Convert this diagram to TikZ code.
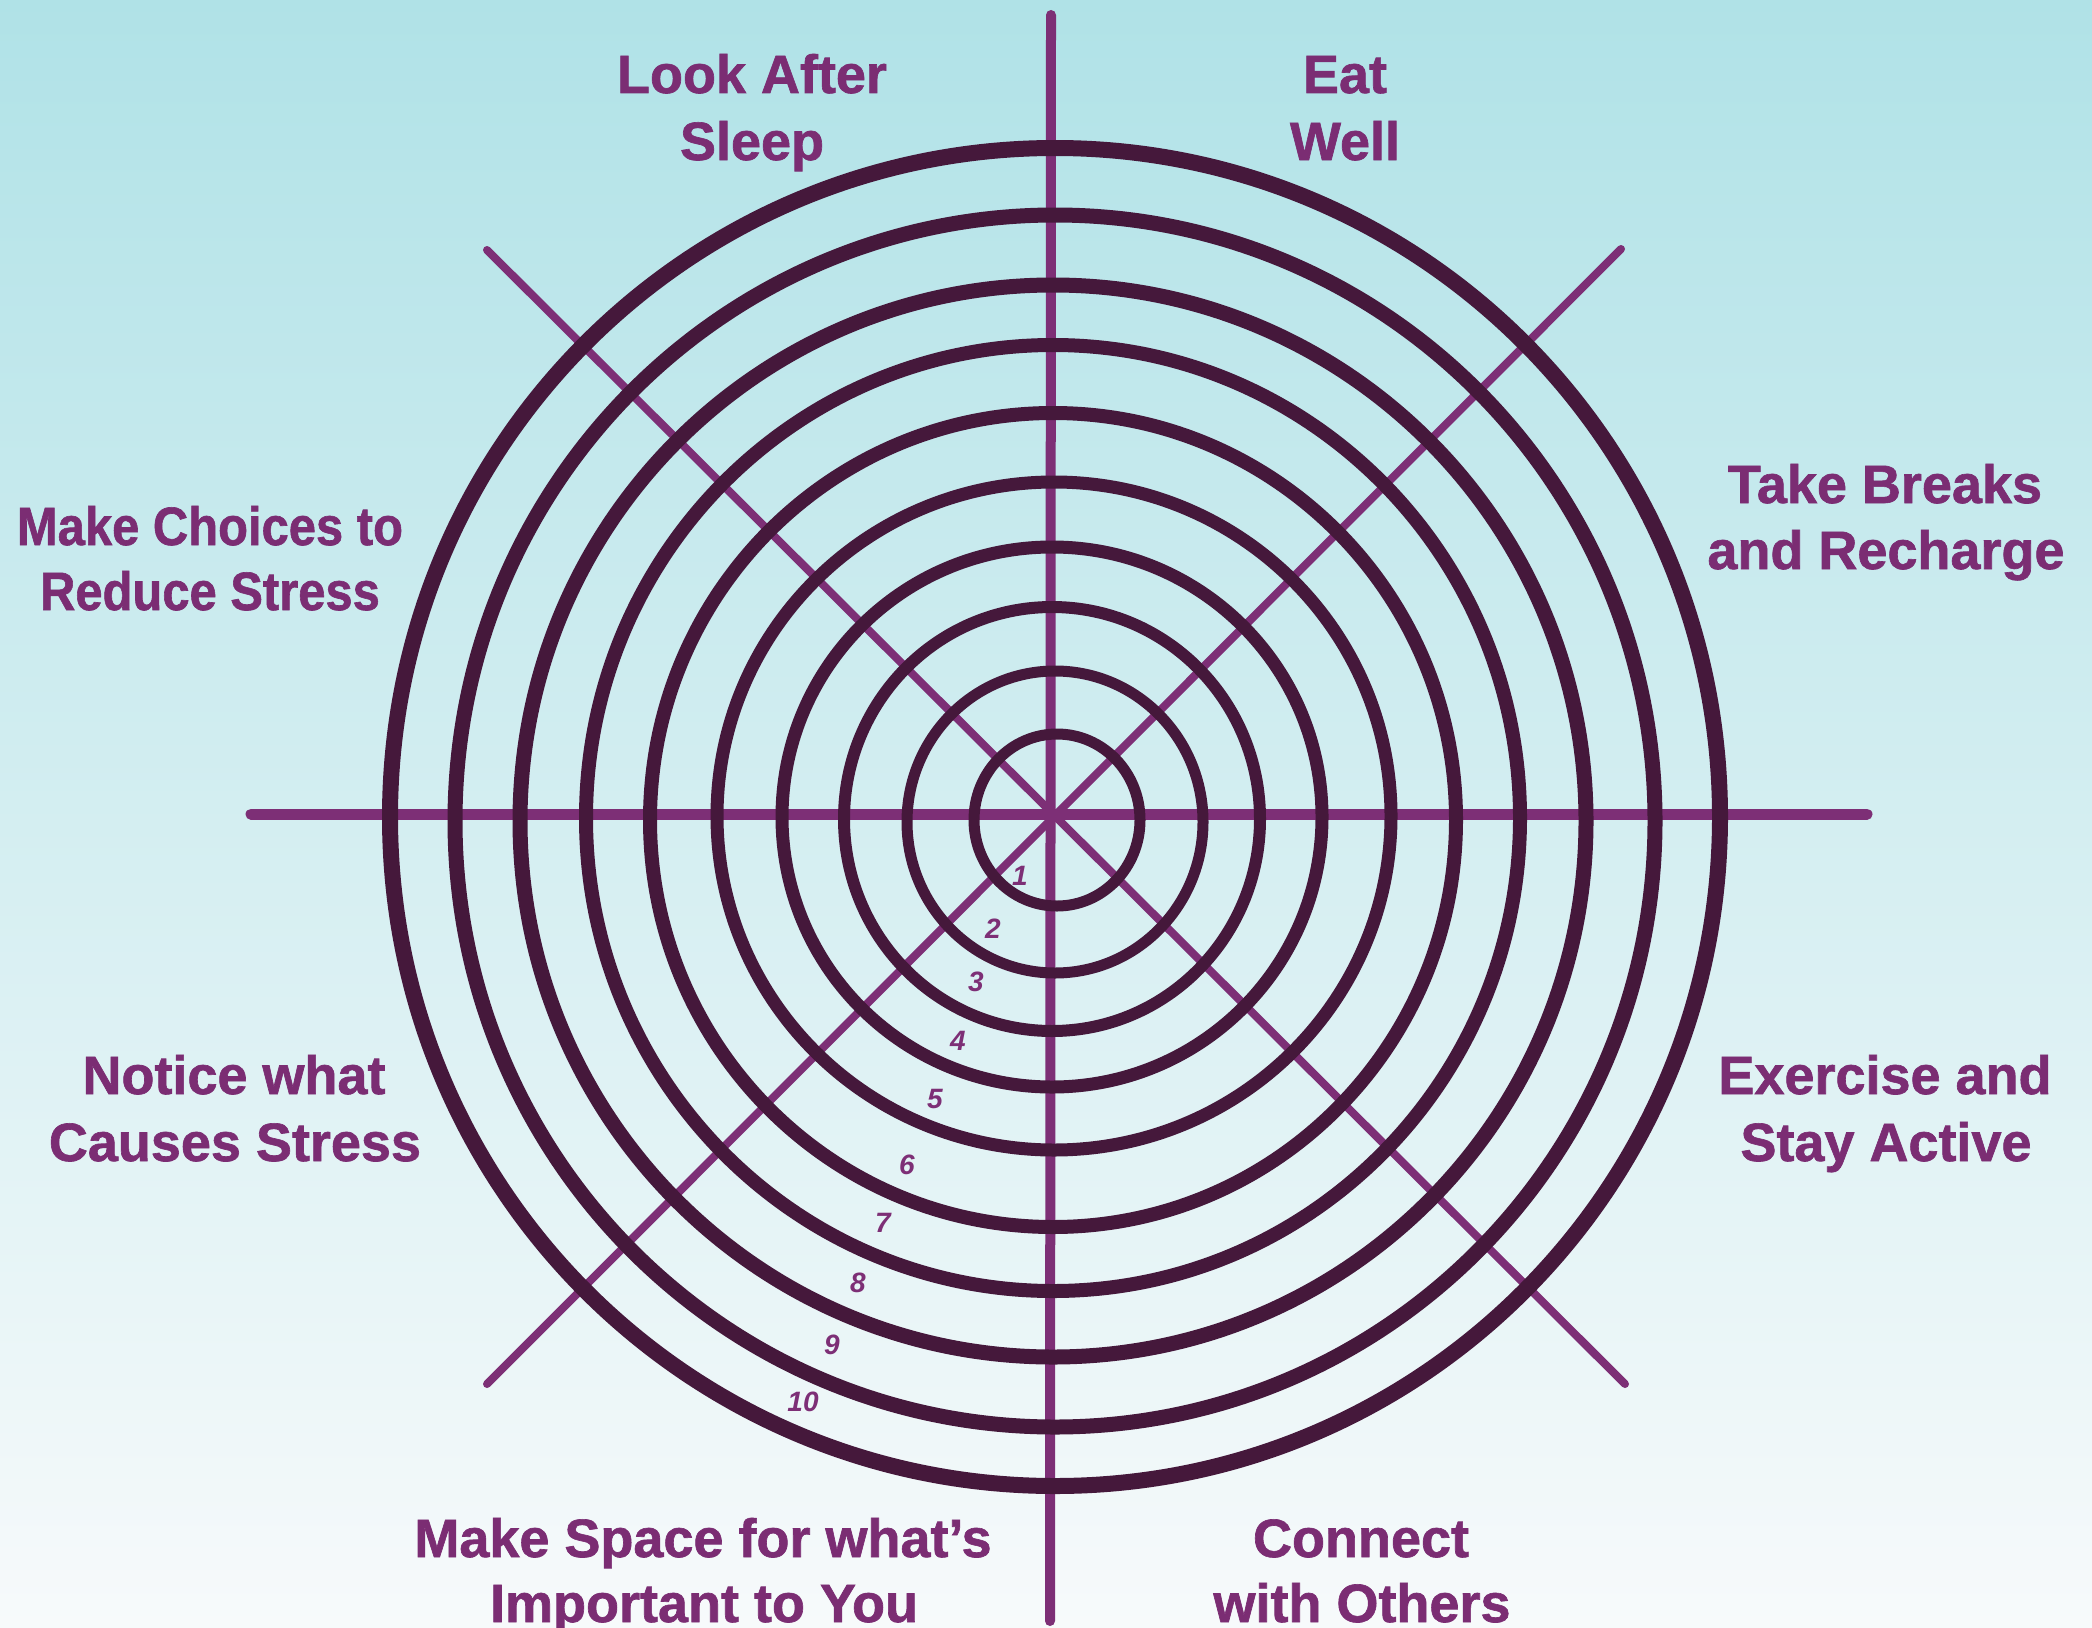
\documentclass[tikz,border=0pt]{standalone}
\usepackage{fontspec}
\setmainfont{Liberation Sans}
\newfontfamily\labfont{Liberation Sans Bold}[FakeBold=1.2]
\newfontfamily\numfont{Liberation Sans Bold Italic}
\definecolor{bgtop}{RGB}{176,226,231}
\definecolor{bgbot}{RGB}{247,250,251}
\definecolor{ring}{RGB}{69,24,59}
\definecolor{spoke}{RGB}{125,47,118}
\definecolor{labelc}{RGB}{123,45,115}
\begin{document}
\begin{tikzpicture}[x=0.5pt,y=-0.5pt,
  lab/.style={text=labelc, font=\labfont\fontsize{27}{32}\selectfont, anchor=base, inner sep=0pt},
  num/.style={text=spoke, font=\numfont\fontsize{14}{14}\selectfont, inner sep=0pt},
  spokeline/.style={draw=spoke, line cap=round},
  ringline/.style={draw=ring}]
\useasboundingbox (0,0) rectangle (2092,1627);
\shade[top color=bgtop, bottom color=bgbot] (0,0) rectangle (2092,1627);
% spokes
\coordinate (c) at (1051,814);
\coordinate (top) at (1051,15);
\coordinate (bot) at (1050,1621);
\coordinate (lft) at (251,814);
\coordinate (rgt) at (1867,814);
\coordinate (ul) at (487,250);
\coordinate (ur) at (1621,249);
\coordinate (ll) at (487,1384);
\coordinate (lr) at (1625,1384);
\draw[spokeline, line width=5pt] (top) -- (bot);
\draw[spokeline, line width=5.5pt] (lft) -- (rgt);
\draw[spokeline, line width=4pt] (ul) -- (lr);
\draw[spokeline, line width=4pt] (ur) -- (ll);
% rings
\draw[ringline, line width=5.5pt] (1057,820) ellipse [x radius=83, y radius=86];
\draw[ringline, line width=5.5pt] (1055,822) ellipse [x radius=148, y radius=151];
\draw[ringline, line width=6pt] (1052,819) ellipse [x radius=208, y radius=212];
\draw[ringline, line width=6.5pt] (1052,817) ellipse [x radius=270, y radius=270];
\draw[ringline, line width=6.5pt] (1054,816) ellipse [x radius=337, y radius=334];
\draw[ringline, line width=7pt] (1053,820) ellipse [x radius=403, y radius=407];
\draw[ringline, line width=7pt] (1053,818) ellipse [x radius=467, y radius=473];
\draw[ringline, line width=7.5pt] (1053,821) ellipse [x radius=533, y radius=536];
\draw[ringline, line width=7.5pt] (1055,821) ellipse [x radius=600, y radius=606];
\draw[ringline, line width=8pt] (1055,817) ellipse [x radius=665, y radius=669];
% numbers
\node[num] (n1) at (1020,876) {1};
\node[num] (n2) at (993,929) {2};
\node[num] (n3) at (976,982) {3};
\node[num] (n4) at (958,1041) {4};
\node[num] (n5) at (935,1099) {5};
\node[num] (n6) at (907,1165) {6};
\node[num] (n7) at (883,1223) {7};
\node[num] (n8) at (858,1283) {8};
\node[num] (n9) at (832,1345) {9};
\node[num] (n10) at (803,1402) {10};
% labels
\node[lab] (sleepA) at (752,93) {Look After};
\node[lab] (sleepB) at (752,160) {Sleep};
\node[lab] (eatA) at (1345,93) {Eat};
\node[lab] (eatB) at (1345,160) {Well};
\node[lab] (choA) at (210,545) {\scalebox{0.906}[1]{Make Choices to}};
\node[lab] (choB) at (210,610) {\scalebox{0.906}[1]{Reduce Stress}};
\node[lab] (takA) at (1885,503) {Take Breaks};
\node[lab] (takB) at (1886,569) {and Recharge};
\node[lab] (notA) at (234,1094) {Notice what};
\node[lab] (notB) at (235,1161) {Causes Stress};
\node[lab] (exeA) at (1885,1094) {Exercise and};
\node[lab] (exeB) at (1886,1161) {Stay Active};
\node[lab] (spaA) at (703,1557) {Make Space for what’s};
\node[lab] (spaB) at (704,1622) {Important to You};
\node[lab] (conA) at (1361,1557) {Connect};
\node[lab] (conB) at (1362,1622) {with Others};
\end{tikzpicture}
\end{document}
